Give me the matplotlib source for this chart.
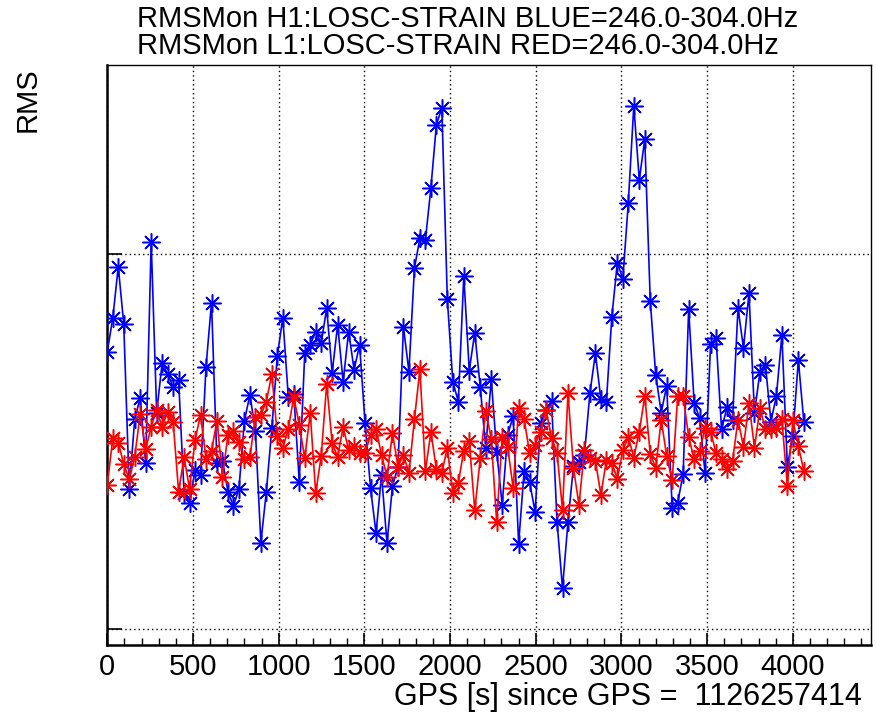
import matplotlib
matplotlib.use("Agg")
import matplotlib.pyplot as plt
from matplotlib.ticker import MultipleLocator, FixedLocator, NullFormatter

plt.rcParams['font.family'] = ['Liberation Sans', 'DejaVu Sans']

# ---------------- data ----------------
gps_start = 1126257414
sample_step_s = 32
n_samples = 128
time_s = [sample_step_s * i for i in range(n_samples)]

title_h1 = "RMSMon H1:LOSC-STRAIN BLUE=246.0-304.0Hz"
title_l1 = "RMSMon L1:LOSC-STRAIN RED=246.0-304.0Hz"
y_title = "RMS"
x_title = "GPS [s] since GPS =  " + str(gps_start)

x_tick_values = [0, 500, 1000, 1500, 2000, 2500, 3000, 3500, 4000]
y_tick_values = [1.0, 2.0]

# H1 (blue) band-limited RMS, arbitrary units (ticks at 1 and 2)
h1_rms = [
    1.739, 1.829, 1.966, 1.813, 1.373, 1.559, 1.617, 1.442, 2.033, 1.577,
    1.709, 1.680, 1.646, 1.664, 1.362, 1.337, 1.424, 1.411,
    1.699, 1.870, 1.442, 1.449, 1.366, 1.328, 1.373, 1.555, 1.624, 1.529,
    1.230, 1.366, 1.535, 1.728, 1.830, 1.619, 1.627, 1.393,
    1.735, 1.757, 1.793, 1.762, 1.855, 1.683, 1.811, 1.659, 1.793, 1.691,
    1.757, 1.549, 1.375, 1.255, 1.411, 1.229, 1.381, 1.432, 1.805,
    1.686, 1.962, 2.042, 2.037, 2.175, 2.344, 2.389, 1.879, 1.659, 1.606,
    1.941, 1.689, 1.790, 1.646, 1.482, 1.666, 1.473, 1.331,
    1.517, 1.567, 1.227, 1.421, 1.392, 1.312, 1.548, 1.583, 1.608, 1.286,
    1.108, 1.286, 1.434, 1.444, 1.465, 1.629, 1.735, 1.612,
    1.606, 1.833, 1.977, 1.933, 2.137, 2.395, 2.197, 2.306, 1.875, 1.677,
    1.577, 1.648, 1.322, 1.337, 1.413, 1.853, 1.603, 1.562,
    1.415, 1.760, 1.775, 1.533, 1.591, 1.557, 1.855, 1.749, 1.895, 1.575,
    1.686, 1.704, 1.553, 1.621, 1.784, 1.433, 1.515, 1.717, 1.553,
]

# L1 (red) band-limited RMS, same units
l1_rms = [
    1.384, 1.509, 1.497, 1.439, 1.399, 1.459, 1.573, 1.479, 1.539, 1.584,
    1.538, 1.579, 1.553, 1.366, 1.458, 1.373, 1.504, 1.571,
    1.453, 1.475, 1.555, 1.406, 1.517, 1.529, 1.499, 1.453, 1.458, 1.566,
    1.571, 1.606, 1.680, 1.515, 1.482, 1.533, 1.619, 1.544,
    1.455, 1.575, 1.362, 1.461, 1.653, 1.495, 1.459, 1.539, 1.477, 1.488,
    1.469, 1.469, 1.517, 1.533, 1.464, 1.406, 1.522, 1.433, 1.464,
    1.416, 1.559, 1.692, 1.421, 1.525, 1.427, 1.417, 1.482, 1.362, 1.389,
    1.475, 1.501, 1.316, 1.455, 1.582, 1.507, 1.285, 1.512,
    1.484, 1.376, 1.589, 1.560, 1.469, 1.491, 1.526, 1.585, 1.509, 1.470,
    1.317, 1.629, 1.429, 1.331, 1.477, 1.456, 1.449, 1.357,
    1.450, 1.443, 1.400, 1.476, 1.512, 1.457, 1.526, 1.621, 1.466, 1.430,
    1.558, 1.460, 1.396, 1.621, 1.621, 1.512, 1.453, 1.474,
    1.536, 1.526, 1.469, 1.454, 1.427, 1.447, 1.558, 1.485, 1.602, 1.483,
    1.588, 1.533, 1.533, 1.536, 1.559, 1.381, 1.556, 1.489, 1.421,
]

# ---------------- figure ----------------
W, H = 876, 724
fig = plt.figure(figsize=(W / 100, H / 100), dpi=100)
left_px, right_px, top_px, bottom_px = 107.3, 871.0, 64.5, 645.0
ax = fig.add_axes([left_px / W, 1 - bottom_px / H,
                   (right_px - left_px) / W, (bottom_px - top_px) / H])

star = (8, 2, 0)
ax.plot(time_s, h1_rms, color='#0000ff', lw=1.2, marker=star, ms=13,
        mew=1.1, zorder=3)
ax.plot(time_s, l1_rms, color='#ff0000', lw=1.2, marker=star, ms=13,
        mew=1.1, zorder=4)

ax.set_xlim(0, 4456)
ax.set_ylim(0.957, 2.505)

ax.xaxis.set_major_locator(FixedLocator(x_tick_values))
ax.set_xticklabels([str(v) for v in x_tick_values])
ax.xaxis.set_minor_locator(MultipleLocator(100))
ax.yaxis.set_major_locator(FixedLocator(y_tick_values))
ax.yaxis.set_major_formatter(NullFormatter())
ax.yaxis.set_minor_locator(FixedLocator([]))

ax.tick_params(axis='x', which='major', direction='in', length=9, width=1.2,
               labelsize=21, pad=6, top=False)
ax.tick_params(axis='x', which='minor', direction='in', length=5, width=1.0,
               top=False)
ax.tick_params(axis='y', which='major', direction='in', length=11, width=1.2,
               right=False)

ax.grid(True, which='major', color='black', linestyle=(0, (1, 2.2)), lw=1.0)
ax.set_axisbelow(True)

for side in ('left', 'bottom'):
    ax.spines[side].set_linewidth(1.8)
for side in ('top', 'right'):
    ax.spines[side].set_linewidth(1.0)

fig.text(137 / W, 1 - 19 / H, title_h1, ha='left', va='center', fontsize=21)
fig.text(137 / W, 1 - 46 / H, title_l1, ha='left', va='center', fontsize=21)
fig.text(28 / W, 1 - 100 / H, y_title, rotation=90, ha='center',
         va='center', fontsize=21)
fig.text(862 / W, 1 - 697 / H, x_title, ha='right', va='center', fontsize=22)

fig.savefig("out.png", dpi=100)
